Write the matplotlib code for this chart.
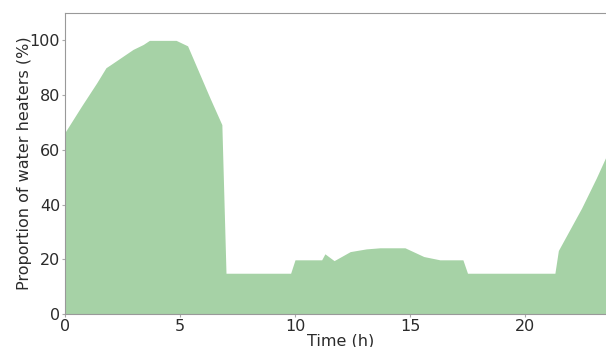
import numpy as np
import matplotlib.pyplot as plt

# hours and share of water heaters switched on (%)
hours = [0.0, 0.72, 1.38, 1.78, 1.96, 2.96, 3.4, 3.67, 4.83, 5.33, 6.3, 6.82,
         7.0, 9.81, 10.0, 11.16, 11.3, 11.7, 12.4, 13.1, 13.7, 14.78, 15.6,
         16.3, 17.3, 17.5, 21.3, 21.45, 22.46, 23.1, 23.55]
share = [66.4, 76.0, 84.5, 90.0, 91.0, 96.7, 98.5, 100.0, 100.0, 98.0, 79.0, 69.2,
         14.9, 14.9, 19.8, 19.8, 22.0, 19.5, 22.8, 23.8, 24.2, 24.2, 21.0,
         19.8, 19.8, 14.9, 14.9, 23.2, 38.7, 49.7, 58.0]
xticks = [0, 5, 10, 15, 20]
yticks = [0, 20, 40, 60, 80, 100]

txt = '#2b2b2b'

fig = plt.figure(figsize=(6.06, 3.47), dpi=100)
# right edge of the axes sits past the figure border, as in the cropped original
ax = fig.add_axes([65 / 606, 1 - 314 / 347, 552 / 606, 301 / 347])

ax.fill_between(hours, share, 0, color='green', alpha=0.35, linewidth=0)

ax.set_xlim(0, 24)
ax.set_ylim(0, 110)
ax.set_xticks(xticks)
ax.set_yticks(yticks)
ax.tick_params(labelsize=11.5, length=2.5, color='#aaaaaa', labelcolor=txt, pad=1)
for s in ax.spines.values():
    s.set_color('#999999')
ax.spines['right'].set_visible(False)

ax.set_xlabel('Time (h)', fontsize=11.5, labelpad=0, color=txt)
ax.set_ylabel('Proportion of water heaters (%)', fontsize=11.5, labelpad=-2, color=txt)

fig.savefig('out.png', dpi=100)
